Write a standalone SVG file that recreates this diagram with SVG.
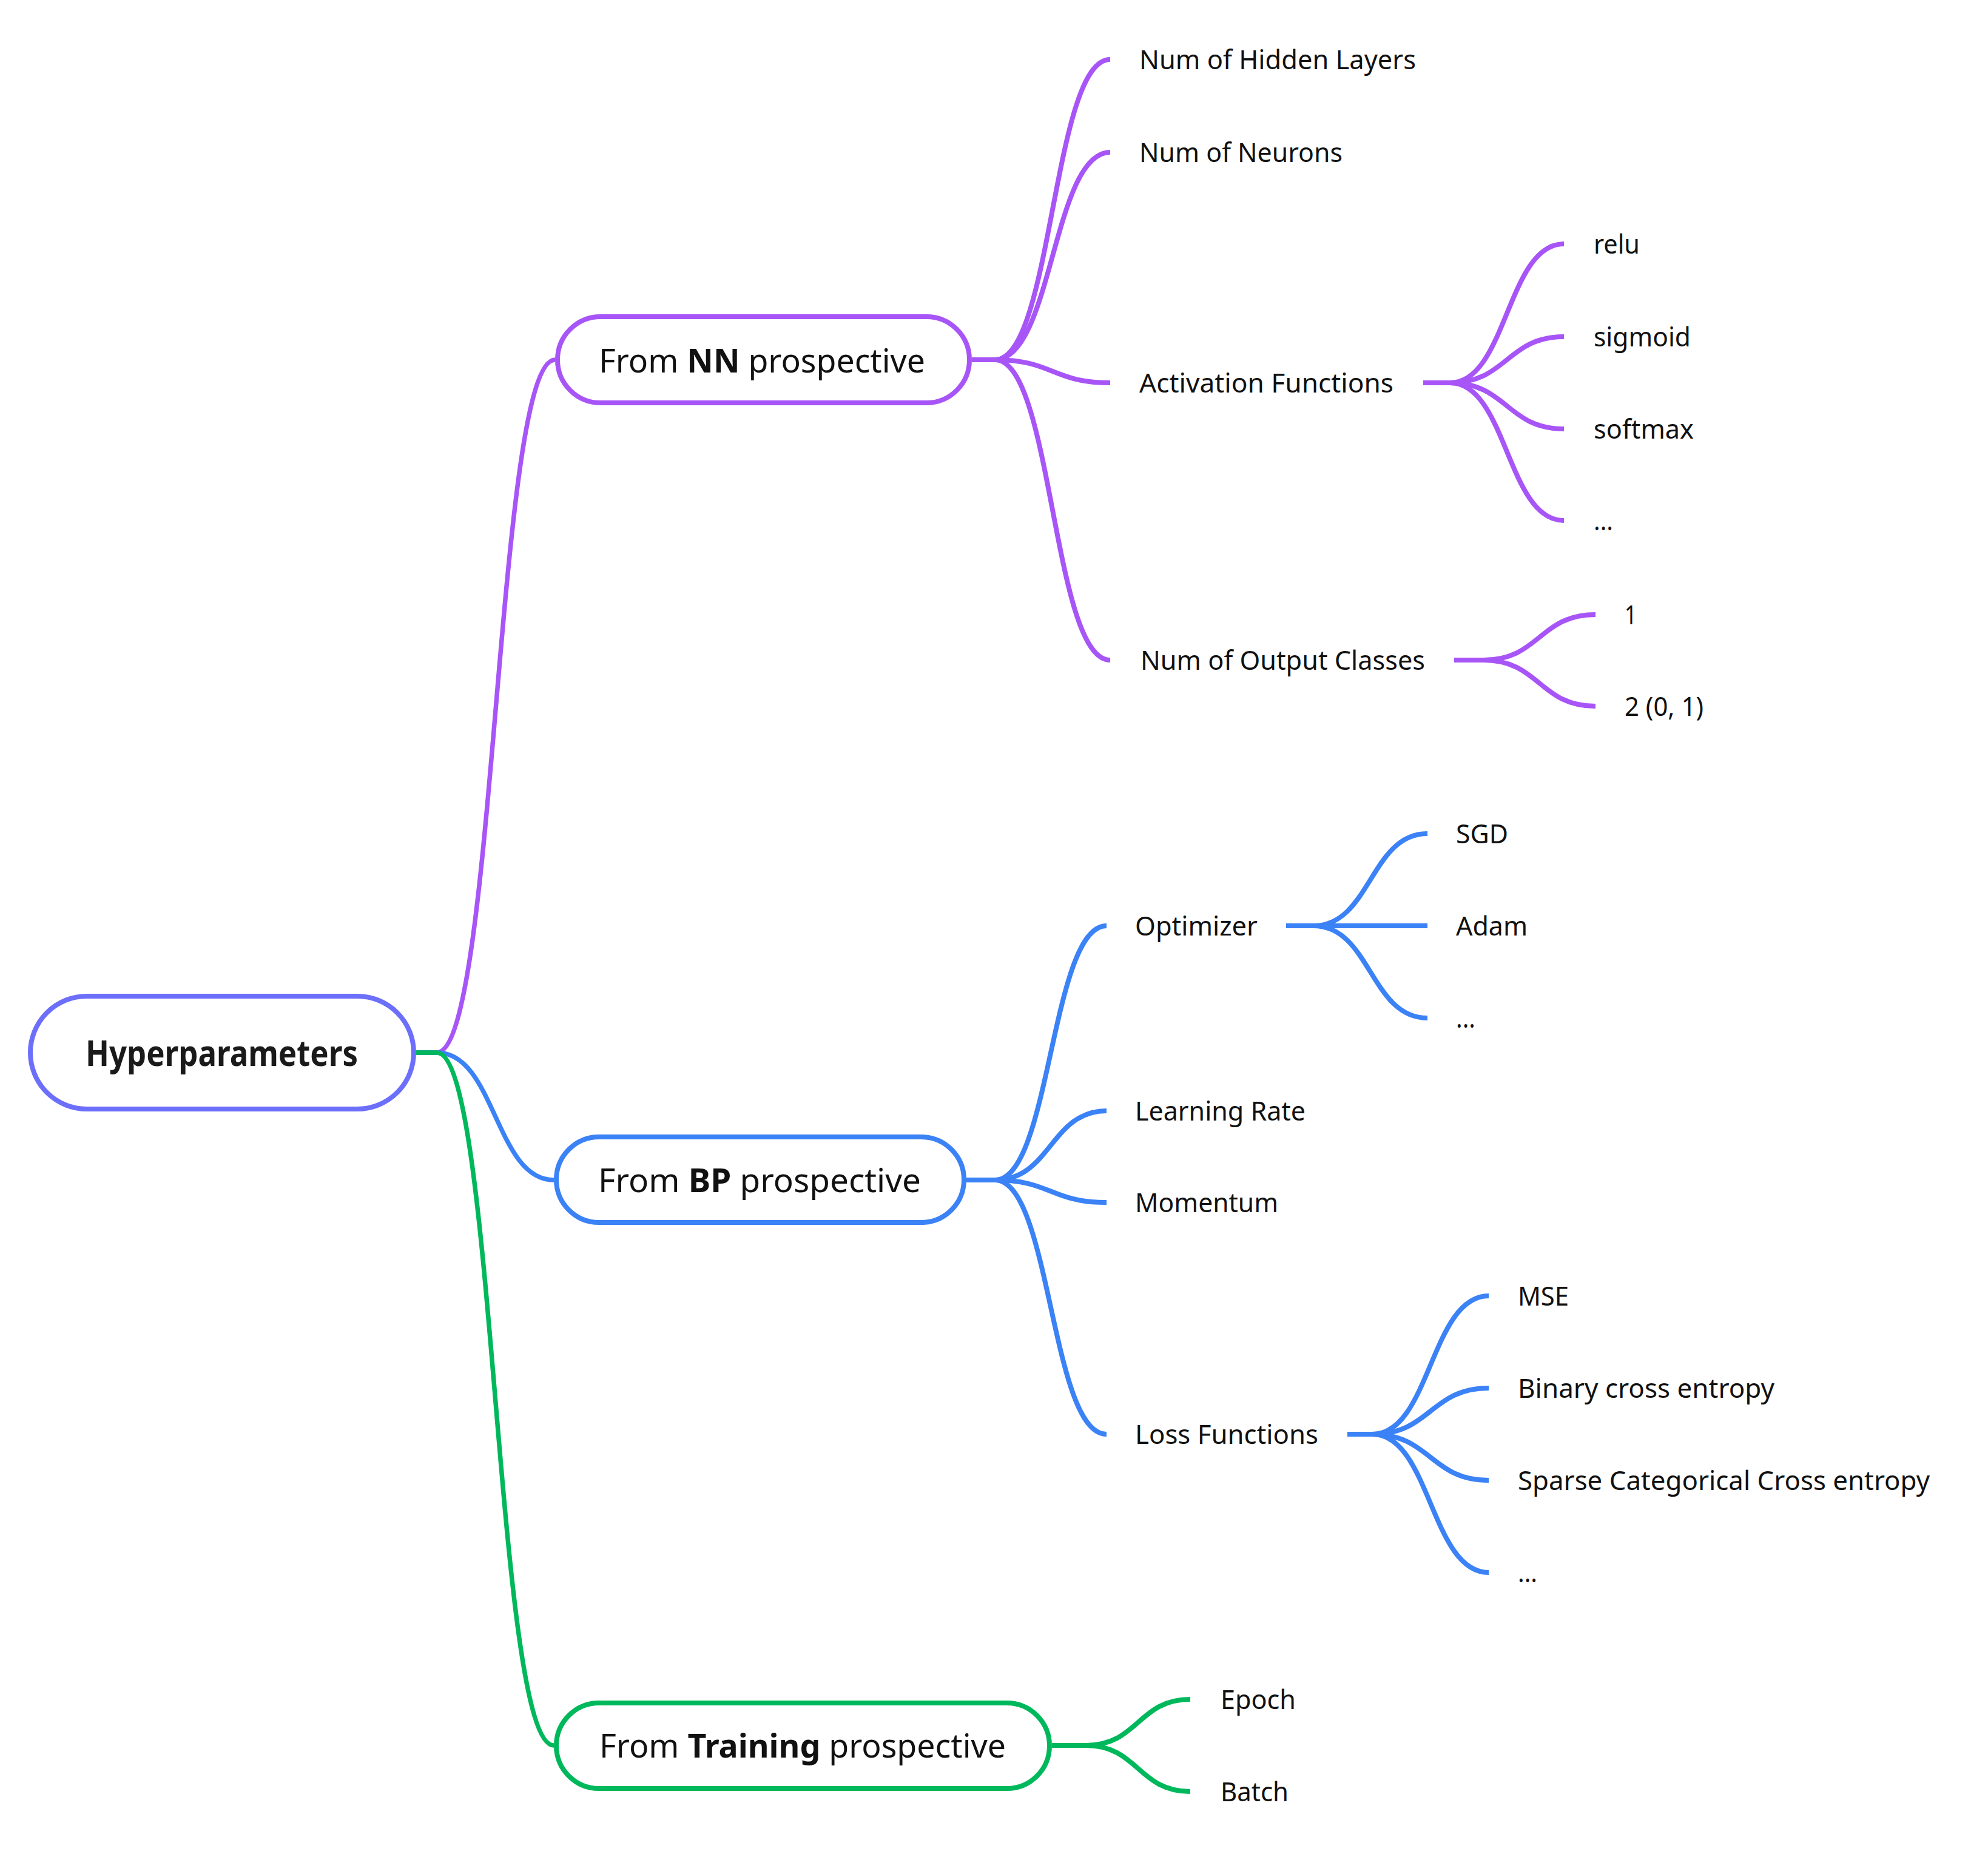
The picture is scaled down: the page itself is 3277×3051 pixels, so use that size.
<svg xmlns="http://www.w3.org/2000/svg" width="3277" height="3051" viewBox="0 0 3277 3051">
  <style>
    .bg { fill: #ffffff; }
    .box { fill: #ffffff; stroke-width: 8; }
    .link { fill: none; stroke-linecap: butt; stroke-linejoin: round; }
    .l1 { stroke-width: 7.5; }
    .l2 { stroke-width: 8; }
    .purple { stroke: #a855f7; }
    .blue { stroke: #3b82f6; }
    .green { stroke: #00b85c; }
    .root { stroke: #6c6ffa; }
    .t { font-family: "Noto Sans", "Open Sans", "Liberation Sans", sans-serif; fill: #111111; }
    .t0 { font-size: 60px; font-weight: 700; fill: #1a1a1a; }
    .t1 { font-size: 54px; }
    .t2 { font-size: 44px; }
    .b { font-weight: 700; }
  </style>
  <rect class="bg" x="0" y="0" width="3277" height="3051"/>

  <!-- connectors -->
  <g id="connectors">
    <!-- root to first level -->
    <path class="link l1 purple" d="M686,1735 H720 C817.5,1735 817.5,593 915,593"/>
    <path class="link l1 blue" d="M686,1735 H720 C816.5,1735 816.5,1945 913,1945"/>
    <path class="link l1 green" d="M686,1735 H720 C816.5,1735 816.5,2877 913,2877"/>

    <!-- From NN prospective -->
    <path class="link l2 purple" d="M1602,593 H1640 C1735,593 1735,98 1830,98"/>
    <path class="link l2 purple" d="M1602,593 H1640 C1735,593 1735,251 1830,251"/>
    <path class="link l2 purple" d="M1602,593 H1640 C1735,593 1735,631 1830,631"/>
    <path class="link l2 purple" d="M1602,593 H1640 C1735,593 1735,1088 1830,1088"/>

    <!-- Activation Functions -->
    <path class="link l2 purple" d="M2346,631 H2390 C2484,631 2484,402 2578,402"/>
    <path class="link l2 purple" d="M2346,631 H2390 C2484,631 2484,555 2578,555"/>
    <path class="link l2 purple" d="M2346,631 H2390 C2484,631 2484,707 2578,707"/>
    <path class="link l2 purple" d="M2346,631 H2390 C2484,631 2484,858 2578,858"/>

    <!-- Num of Output Classes -->
    <path class="link l2 purple" d="M2397,1088 H2445 C2537.5,1088 2537.5,1013 2630,1013"/>
    <path class="link l2 purple" d="M2397,1088 H2445 C2537.5,1088 2537.5,1164 2630,1164"/>

    <!-- From BP prospective -->
    <path class="link l2 blue" d="M1593,1945 H1640 C1732,1945 1732,1526 1824,1526"/>
    <path class="link l2 blue" d="M1593,1945 H1640 C1732,1945 1732,1831 1824,1831"/>
    <path class="link l2 blue" d="M1593,1945 H1640 C1732,1945 1732,1982 1824,1982"/>
    <path class="link l2 blue" d="M1593,1945 H1640 C1732,1945 1732,2364 1824,2364"/>

    <!-- Optimizer -->
    <path class="link l2 blue" d="M2120,1526 H2165 C2259,1526 2259,1374 2353,1374"/>
    <path class="link l2 blue" d="M2120,1526 H2353"/>
    <path class="link l2 blue" d="M2120,1526 H2165 C2259,1526 2259,1678 2353,1678"/>

    <!-- Loss Functions -->
    <path class="link l2 blue" d="M2221,2364 H2262 C2358,2364 2358,2136 2454,2136"/>
    <path class="link l2 blue" d="M2221,2364 H2262 C2358,2364 2358,2288 2454,2288"/>
    <path class="link l2 blue" d="M2221,2364 H2262 C2358,2364 2358,2440 2454,2440"/>
    <path class="link l2 blue" d="M2221,2364 H2262 C2358,2364 2358,2592 2454,2592"/>

    <!-- From Training prospective -->
    <path class="link l2 green" d="M1734,2877 H1790 C1876,2877 1876,2801 1962,2801"/>
    <path class="link l2 green" d="M1734,2877 H1790 C1876,2877 1876,2953 1962,2953"/>
  </g>

  <!-- root -->
  <g id="node-hyperparameters">
    <rect class="box root" x="50" y="1642" width="632" height="186" rx="93" ry="93"/>
    <text class="t t0" x="141" y="1757" textLength="449" lengthAdjust="spacingAndGlyphs">Hyperparameters</text>
  </g>

  <!-- first level -->
  <g id="node-nn">
    <rect class="box purple" x="919" y="522" width="679" height="142" rx="71" ry="71"/>
    <text class="t t1" x="987" y="614" textLength="538" lengthAdjust="spacingAndGlyphs">From <tspan class="b">NN</tspan> prospective</text>
  </g>
  <g id="node-bp">
    <rect class="box blue" x="917" y="1874" width="672" height="141" rx="70.5" ry="70.5"/>
    <text class="t t1" x="986" y="1965" textLength="532" lengthAdjust="spacingAndGlyphs">From <tspan class="b">BP</tspan> prospective</text>
  </g>
  <g id="node-training">
    <rect class="box green" x="917" y="2807" width="813" height="141" rx="70.5" ry="70.5"/>
    <text class="t t1" x="988" y="2897" textLength="670" lengthAdjust="spacingAndGlyphs">From <tspan class="b">Training</tspan> prospective</text>
  </g>

  <!-- NN branch -->
  <g id="node-hidden-layers"><text class="t t2" x="1878" y="113.5" textLength="456" lengthAdjust="spacingAndGlyphs">Num of Hidden Layers</text></g>
  <g id="node-neurons"><text class="t t2" x="1878" y="266.5" textLength="335" lengthAdjust="spacingAndGlyphs">Num of Neurons</text></g>
  <g id="node-activation"><text class="t t2" x="1878" y="646.5" textLength="419" lengthAdjust="spacingAndGlyphs">Activation Functions</text></g>
  <g id="node-relu"><text class="t t2" x="2627" y="417.5" textLength="76" lengthAdjust="spacingAndGlyphs">relu</text></g>
  <g id="node-sigmoid"><text class="t t2" x="2627" y="570.5" textLength="160" lengthAdjust="spacingAndGlyphs">sigmoid</text></g>
  <g id="node-softmax"><text class="t t2" x="2627" y="722.5" textLength="165" lengthAdjust="spacingAndGlyphs">softmax</text></g>
  <g id="node-activation-more"><text class="t t2" x="2627" y="873.5" textLength="32" lengthAdjust="spacingAndGlyphs">...</text></g>
  <g id="node-output-classes"><text class="t t2" x="1880" y="1103.5" textLength="469" lengthAdjust="spacingAndGlyphs">Num of Output Classes</text></g>
  <g id="node-one"><text class="t t2" x="2678" y="1028.5" textLength="20" lengthAdjust="spacingAndGlyphs">1</text></g>
  <g id="node-two"><text class="t t2" x="2678" y="1179.5" textLength="130" lengthAdjust="spacingAndGlyphs">2 (0, 1)</text></g>

  <!-- BP branch -->
  <g id="node-optimizer"><text class="t t2" x="1871" y="1541.5" textLength="202" lengthAdjust="spacingAndGlyphs">Optimizer</text></g>
  <g id="node-sgd"><text class="t t2" x="2400" y="1389.5" textLength="86" lengthAdjust="spacingAndGlyphs">SGD</text></g>
  <g id="node-adam"><text class="t t2" x="2400" y="1541.5" textLength="118" lengthAdjust="spacingAndGlyphs">Adam</text></g>
  <g id="node-optimizer-more"><text class="t t2" x="2400" y="1693.5" textLength="32" lengthAdjust="spacingAndGlyphs">...</text></g>
  <g id="node-learning-rate"><text class="t t2" x="1871" y="1846.5" textLength="281" lengthAdjust="spacingAndGlyphs">Learning Rate</text></g>
  <g id="node-momentum"><text class="t t2" x="1871" y="1997.5" textLength="236" lengthAdjust="spacingAndGlyphs">Momentum</text></g>
  <g id="node-loss"><text class="t t2" x="1871" y="2379.5" textLength="302" lengthAdjust="spacingAndGlyphs">Loss Functions</text></g>
  <g id="node-mse"><text class="t t2" x="2502" y="2151.5" textLength="84" lengthAdjust="spacingAndGlyphs">MSE</text></g>
  <g id="node-binary-ce"><text class="t t2" x="2502" y="2303.5" textLength="423" lengthAdjust="spacingAndGlyphs">Binary cross entropy</text></g>
  <g id="node-sparse-cce"><text class="t t2" x="2502" y="2455.5" textLength="679" lengthAdjust="spacingAndGlyphs">Sparse Categorical Cross entropy</text></g>
  <g id="node-loss-more"><text class="t t2" x="2502" y="2607.5" textLength="32" lengthAdjust="spacingAndGlyphs">...</text></g>

  <!-- Training branch -->
  <g id="node-epoch"><text class="t t2" x="2012" y="2816.5" textLength="124" lengthAdjust="spacingAndGlyphs">Epoch</text></g>
  <g id="node-batch"><text class="t t2" x="2012" y="2968.5" textLength="112" lengthAdjust="spacingAndGlyphs">Batch</text></g>
</svg>
